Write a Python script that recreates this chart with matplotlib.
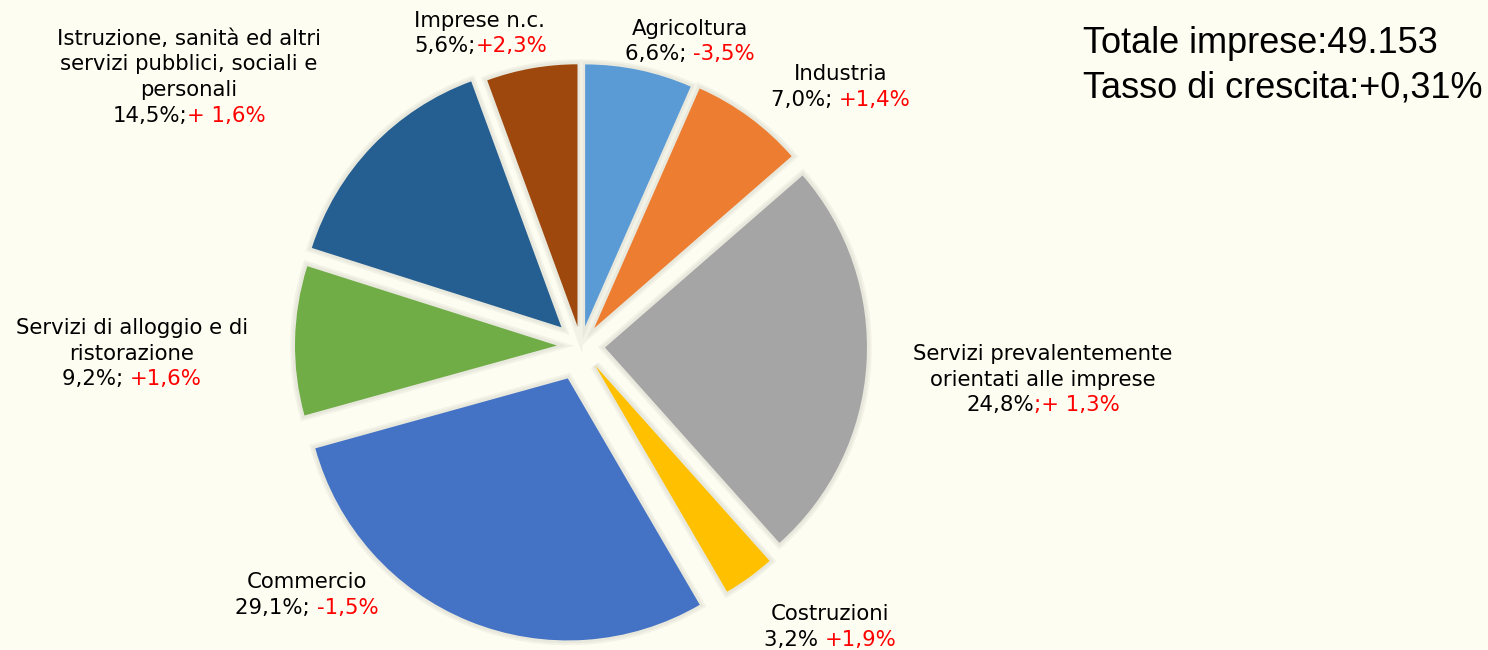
import matplotlib
matplotlib.use("Agg")
import matplotlib.patheffects as pe
import matplotlib.pyplot as plt

# --- data ---
SECTORS = [
    "Agricoltura",
    "Industria",
    "Servizi prevalentemente\norientati alle imprese",
    "Costruzioni",
    "Commercio",
    "Servizi di alloggio e di\nristorazione",
    "Istruzione, sanità ed altri\nservizi pubblici, sociali e\npersonali",
    "Imprese n.c.",
]
SHARES = [6.6, 7.0, 24.8, 3.2, 29.1, 9.2, 14.5, 5.6]
SHARE_SEP = ["; ", "; ", "", " ", "; ", "; ", ";", ";"]
GROWTH = ["-3,5%", "+1,4%", ";+ 1,3%", "+1,9%", "-1,5%", "+1,6%", "+ 1,6%", "+2,3%"]
TOTAL_LINES = ["Totale imprese:49.153", "Tasso di crescita:+0,31%"]

# --- style / layout (pixel units) ---
W, H = 1488, 650
BG = "#FDFDF1"
COLORS = ["#5B9BD5", "#ED7D31", "#A5A5A5", "#FFC000",
          "#4472C4", "#70AD47", "#255E91", "#9E480E"]
EXPLODE = [20, 22, 24, 24, 35, 24, 27, 20]
CENTER = (581, H - 346)
RADIUS = 262
FS = 15.3
LINE = 25.5
# (x, baseline of first line from top, alignment)
LABEL_POS = [
    (690, 35, "center"),
    (841, 80, "center"),
    (1043, 360, "center"),
    (830, 620, "center"),
    (307, 588, "center"),
    (132, 334, "center"),
    (189, 45, "center"),
    (414, 27, "left"),
]


def _fmt_share(v: float) -> str:
    return f"{v:.1f}".replace(".", ",") + "%"


def _put_label(ax, renderer, x, base_y, name, black, red, ha):
    y = H - base_y
    for line in name.split("\n"):
        ax.text(x, y, line, ha=ha, va="baseline", fontsize=FS, color="black")
        y -= LINE
    probe = ax.text(0, 0, black + red, fontsize=FS, va="baseline")
    wfull = probe.get_window_extent(renderer).width
    probe.remove()
    x0 = x - wfull / 2 if ha == "center" else x
    ax.text(x0, y, black, ha="left", va="baseline", fontsize=FS, color="black")
    ax.text(x0 + wfull, y, red, ha="right", va="baseline", fontsize=FS, color="#FF0000")


fig = plt.figure(figsize=(W / 100, H / 100), dpi=100, facecolor=BG)
ax = fig.add_axes([0, 0, 1, 1])
ax.set_facecolor(BG)

wedges, _ = ax.pie(
    SHARES, colors=COLORS, explode=EXPLODE, startangle=90, counterclock=False,
    center=CENTER, radius=RADIUS,
    wedgeprops=dict(linewidth=0),
)
# soft halo like the Office shadow
for w in wedges:
    w.set_path_effects([
        pe.Stroke(linewidth=7, foreground="#F2F2E7"),
        pe.Stroke(linewidth=4, foreground="#E8E8DD"),
        pe.Normal(),
    ])

ax.set_xlim(0, W)
ax.set_ylim(0, H)
ax.set_aspect("equal")
ax.axis("off")

renderer = fig.canvas.get_renderer()
for name, share, sep, gr, (x, by, ha) in zip(SECTORS, SHARES, SHARE_SEP, GROWTH, LABEL_POS):
    _put_label(ax, renderer, x, by, name, _fmt_share(share) + sep, gr, ha)

for i, line in enumerate(TOTAL_LINES):
    ax.text(1083, H - 53 - i * 44, line, ha="left", va="baseline", fontsize=26,
            family="Liberation Sans", color="black")

fig.savefig("out.png", dpi=100, facecolor=BG)
